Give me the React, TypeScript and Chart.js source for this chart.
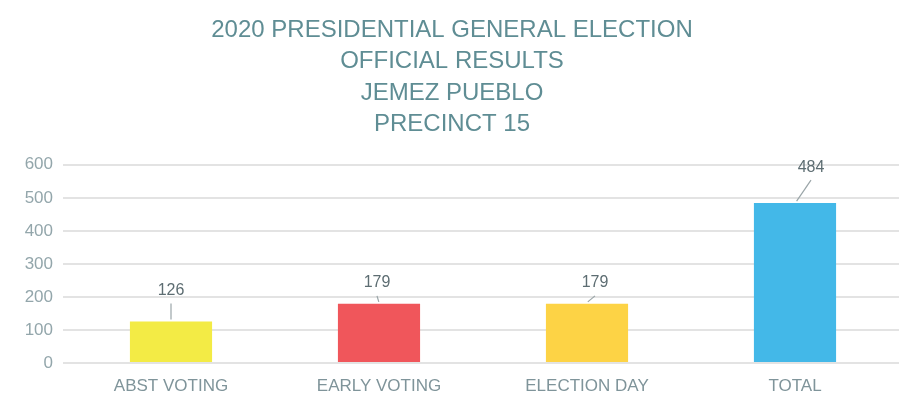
import React, { useEffect, useRef } from "react";
import { Chart, registerables } from "chart.js";

Chart.register(...registerables);

const titleLines = [
  "2020 PRESIDENTIAL GENERAL ELECTION",
  "OFFICIAL RESULTS",
  "JEMEZ PUEBLO",
  "PRECINCT 15",
];
const categories = ["ABST VOTING", "EARLY VOTING", "ELECTION DAY", "TOTAL"];
const votes = [126, 179, 179, 484];
const barColors = ["#f3eb45", "#f0565b", "#fdd345", "#43b8e8"];
const yTicks = [0, 100, 200, 300, 400, 500, 600];

const FONT = "'Liberation Sans', Arial, sans-serif";

// label placement (style only): offset of label centre from bar top-centre
const labelOffsets = [
  { dx: 0, dy: 31 },
  { dx: -2, dy: 21 },
  { dx: 8, dy: 21 },
  { dx: 16, dy: 36 },
];

const calloutPlugin = {
  id: "callouts",
  afterDatasetsDraw(chart: any) {
    const meta = chart.getDatasetMeta(0);
    const ds = chart.data.datasets[0];
    const ctx = chart.ctx;
    ctx.save();
    meta.data.forEach((bar: any, i: number) => {
      const off = labelOffsets[i] || { dx: 0, dy: 25 };
      const tx = bar.x + off.dx;
      const ty = bar.y - off.dy;
      ctx.font = `16px ${FONT}`;
      ctx.fillStyle = "#5d6d72";
      ctx.textAlign = "center";
      ctx.textBaseline = "middle";
      ctx.fillText(String(ds.data[i]), tx, ty);
      const sy = ty + 13;
      const ey = bar.y - 2;
      if (ey > sy) {
        ctx.beginPath();
        ctx.strokeStyle = "#9aa5a8";
        ctx.lineWidth = 1.2;
        ctx.moveTo(tx, sy);
        ctx.lineTo(bar.x + off.dx * 0.1, ey);
        ctx.stroke();
      }
    });
    ctx.restore();
  },
};

const bgPlugin = {
  id: "bg",
  beforeDraw(chart: any) {
    const ctx = chart.ctx;
    ctx.save();
    ctx.fillStyle = "#ffffff";
    ctx.fillRect(0, 0, chart.width, chart.height);
    ctx.restore();
  },
};

export default function App() {
  const ref = useRef<HTMLCanvasElement>(null);
  useEffect(() => {
    if (!ref.current) return;
    const chart = new Chart(ref.current, {
      type: "bar",
      data: {
        labels: categories,
        datasets: [
          {
            data: votes,
            backgroundColor: barColors,
            borderWidth: 0,
            barPercentage: 0.79,
            categoryPercentage: 0.5,
          },
        ],
      },
      options: {
        animation: false,
        responsive: false,
        maintainAspectRatio: false,
        layout: { padding: { left: 5, right: 10, top: 15, bottom: 0 } },
        plugins: {
          legend: { display: false },
          tooltip: { enabled: false },
          title: {
            display: true,
            text: titleLines,
            color: "#5f8d94",
            font: { family: FONT, size: 24, weight: "normal", lineHeight: 1.3 },
            padding: { top: 0, bottom: 25 },
          },
        },
        scales: {
          x: {
            grid: { display: false, drawTicks: false },
            border: { display: false },
            ticks: {
              color: "#7f949a",
              font: { family: FONT, size: 17 },
              padding: 13,
            },
            afterFit(scale: any) {
              scale.height = 49;
            },
          },
          y: {
            min: 0,
            max: 600,
            afterBuildTicks(scale: any) {
              scale.ticks = yTicks.map((v) => ({ value: v }));
            },
            grid: { color: "#e3e3e3", lineWidth: 2, tickLength: 4 },
            border: { display: false },
            ticks: {
              color: "#93a6ab",
              font: { family: FONT, size: 17 },
              padding: 10,
            },
            afterFit(scale: any) {
              scale.width = 62;
            },
          },
        },
      },
      plugins: [bgPlugin, calloutPlugin],
    });
    return () => chart.destroy();
  }, []);
  return (
    <div style={{ position: "absolute", left: 0, top: 0, width: 909, height: 412, background: "#fff" }}>
      <canvas ref={ref} width={909} height={412} style={{ display: "block" }} />
    </div>
  );
}
